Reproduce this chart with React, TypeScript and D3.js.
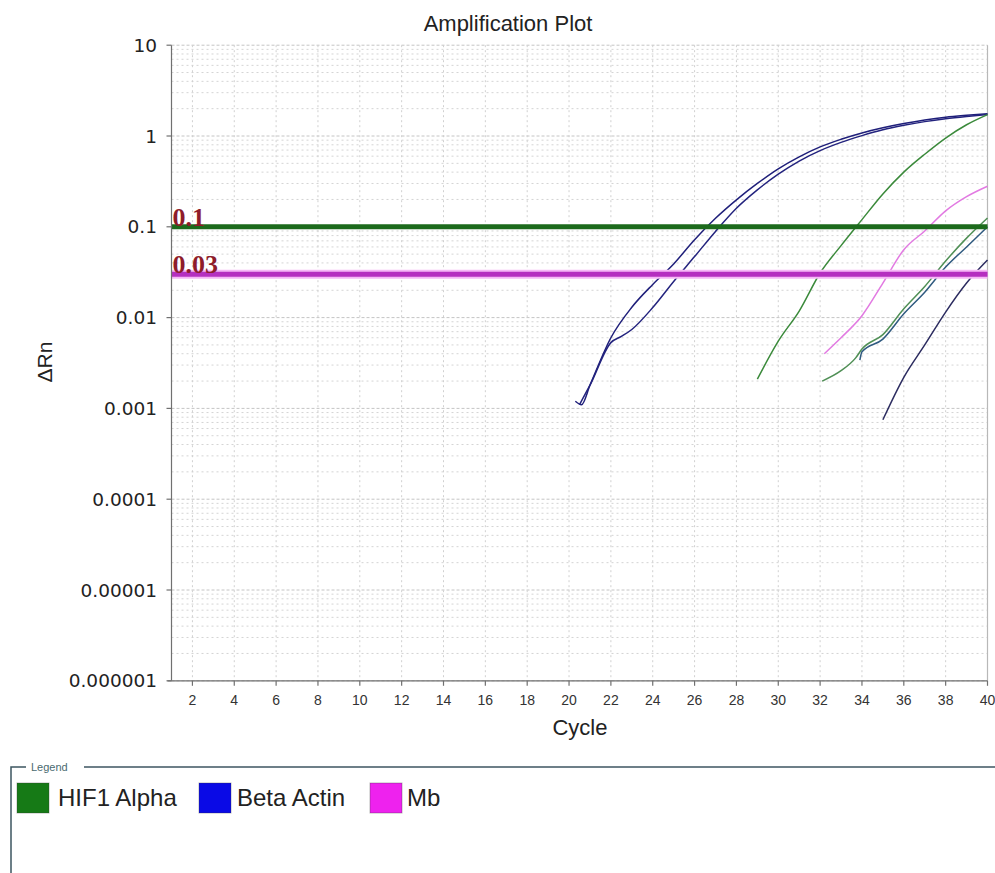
import React from "react";
import * as d3 from "d3";

// ---- data ----
const yTickValues = [10, 1, 0.1, 0.01, 0.001, 0.0001, 0.00001, 0.000001];
const yTickLabels = ["10", "1", "0.1", "0.01", "0.001", "0.0001", "0.00001", "0.000001"];
const xTickValues = [2, 4, 6, 8, 10, 12, 14, 16, 18, 20, 22, 24, 26, 28, 30, 32, 34, 36, 38, 40];

const thresholdValues = [0.1, 0.03];
const thresholdLabels = ["0.1", "0.03"];

const legendLabels = ["HIF1 Alpha", "Beta Actin", "Mb"];

// [cycle, ΔRn]
const betaActinA: [number, number][] = [
  [20.3, 0.0012], [20.6, 0.0011], [21, 0.0018], [22, 0.006], [23, 0.013], [24, 0.0232],
  [25, 0.039], [26, 0.072], [27, 0.124], [28, 0.198], [29, 0.3], [30, 0.435],
  [31, 0.59], [32, 0.76], [33, 0.92], [34, 1.08], [35, 1.23], [36, 1.37],
  [37, 1.5], [38, 1.61], [39, 1.69], [40, 1.76],
];
const betaActinB: [number, number][] = [
  [20.5, 0.0011], [21, 0.0018], [22, 0.0053], [22.5, 0.0062], [23, 0.0074], [24, 0.0129],
  [25, 0.025], [26, 0.047], [27, 0.089], [28, 0.16], [29, 0.255], [30, 0.38],
  [31, 0.53], [32, 0.69], [33, 0.85], [34, 1.01], [35, 1.17], [36, 1.31],
  [37, 1.44], [38, 1.55], [39, 1.64], [40, 1.72],
];
const hif1A: [number, number][] = [
  [29, 0.0021], [30, 0.0055], [31, 0.0118], [32, 0.031], [33, 0.062], [34, 0.12],
  [35, 0.23], [36, 0.4], [37, 0.63], [38, 0.95], [39, 1.33], [40, 1.72],
];
const hif1B: [number, number][] = [
  [32.1, 0.002], [33, 0.0026], [33.7, 0.0036], [34, 0.0045], [35, 0.0065], [36, 0.0125],
  [37, 0.022], [38, 0.042], [39, 0.075], [40, 0.125],
];
const betaActinC: [number, number][] = [
  [33.9, 0.0034], [34, 0.0042], [35, 0.0058], [36, 0.011], [37, 0.019],
  [38, 0.036], [39, 0.06], [40, 0.1],
];
const betaActinD: [number, number][] = [
  [35, 0.00075], [36, 0.0022], [37, 0.005], [38, 0.0115], [39, 0.024], [40, 0.043],
];
const mbA: [number, number][] = [
  [32.2, 0.004], [33, 0.006], [34, 0.0105], [35, 0.024], [36, 0.056], [37, 0.09],
  [38, 0.15], [39, 0.215], [40, 0.28],
];

const curves = [
  { pts: betaActinA, color: "#1f1f7a" },
  { pts: betaActinB, color: "#23237e" },
  { pts: hif1A, color: "#3b8a3b" },
  { pts: hif1B, color: "#4f8f55" },
  { pts: betaActinC, color: "#2f5a80" },
  { pts: betaActinD, color: "#2c2c60" },
  { pts: mbA, color: "#e27ae2" },
];

const legendColors = ["#167a16", "#0a0ae6", "#ee22ee"];
const thresholdColors = ["#1c6a1c", "#b52fc0"];

export default function App() {
  const W = 995;
  const H = 873;
  const x = d3.scaleLinear().domain([1, 40]).range([171.5, 987.5]);
  const y = d3.scaleLog().domain([1e-6, 10]).range([680.8, 45.2]);

  const line = d3
    .line<[number, number]>()
    .x((d) => x(d[0]))
    .y((d) => y(d[1]))
    .curve(d3.curveMonotoneX);

  // minor log grid values
  const minorVals: number[] = [];
  for (let e = -6; e <= 0; e++) {
    for (let m = 2; m <= 9; m++) minorVals.push(m * Math.pow(10, e));
  }

  const font = "'Liberation Sans', Arial, sans-serif";
  const x0 = x(1);
  const x1 = x(40);
  const yTop = y(10);
  const yBot = y(1e-6);

  const legendX = [17, 199, 370];
  const legendTextX = [58, 237, 407];

  return (
    <svg
      width={W}
      height={H}
      style={{ position: "absolute", left: 0, top: 0, background: "#fff" }}
      fontFamily={font}
    >
      <rect x={0} y={0} width={W} height={H} fill="#fff" />
      {/* title */}
      <text x={508} y={31} textAnchor="middle" fontSize={22} fill="#222">
        Amplification Plot
      </text>

      {/* grid */}
      <g>
        {minorVals.map((v, i) => (
          <line key={"m" + i} x1={x0} x2={x1} y1={y(v)} y2={y(v)} stroke="#d4d4d4" strokeWidth={1} strokeDasharray="2,3" />
        ))}
        {yTickValues.map((v, i) => (
          <line key={"M" + i} x1={x0} x2={x1} y1={y(v)} y2={y(v)} stroke="#c4c4c4" strokeWidth={1} strokeDasharray="3,2" />
        ))}
        {xTickValues.map((c, i) => (
          <line key={"v" + i} x1={x(c)} x2={x(c)} y1={yTop} y2={yBot} stroke="#d0d0d0" strokeWidth={1} strokeDasharray="2,3" />
        ))}
      </g>
      {/* right border */}
      <line x1={x1} x2={x1} y1={yTop} y2={yBot} stroke="#b8b8b8" strokeWidth={1.2} />

      {/* curves */}
      {curves.map((c, i) => (
        <path key={"c" + i} d={line(c.pts) || ""} fill="none" stroke={c.color} strokeWidth={1.5} />
      ))}

      {/* thresholds */}
      <line x1={x0} x2={x1} y1={y(thresholdValues[1])} y2={y(thresholdValues[1])} stroke="#f6b8f6" strokeWidth={9} />
      {thresholdValues.map((v, i) => (
        <line key={"t" + i} x1={x0} x2={x1} y1={y(v)} y2={y(v)} stroke={thresholdColors[i]} strokeWidth={5} />
      ))}
      {thresholdValues.map((v, i) => (
        <text
          key={"tl" + i}
          x={x0 + 1}
          y={y(v) - 1}
          fontFamily="'Liberation Serif', 'Times New Roman', serif"
          fontWeight="bold"
          fontSize={26}
          fill="#8e1c2a"
        >
          {thresholdLabels[i]}
        </text>
      ))}

      {/* axes */}
      <line x1={x0} x2={x0} y1={yTop} y2={yBot} stroke="#707070" strokeWidth={1.2} />
      <line x1={x0 - 4} x2={x1} y1={yBot} y2={yBot} stroke="#707070" strokeWidth={1.2} />
      {yTickValues.map((v, i) => (
        <g key={"yt" + i}>
          <line x1={x0 - 5} x2={x0} y1={y(v)} y2={y(v)} stroke="#707070" strokeWidth={1.2} />
          <text
            x={157}
            y={y(v)}
            dy="0.36em"
            textAnchor="end"
            fontSize={18.5}
            fontFamily="'DejaVu Sans', Verdana, sans-serif"
            fill="#222"
          >
            {yTickLabels[i]}
          </text>
        </g>
      ))}
      {xTickValues.map((c, i) => (
        <g key={"xt" + i}>
          <line x1={x(c)} x2={x(c)} y1={yBot} y2={yBot + 5} stroke="#707070" strokeWidth={1.2} />
          <text x={x(c)} y={705} textAnchor="middle" fontSize={14} fill="#333">
            {c}
          </text>
        </g>
      ))}

      {/* axis labels */}
      <text x={580} y={735} textAnchor="middle" fontSize={22} fill="#222">
        Cycle
      </text>
      <text transform="translate(52,362) rotate(-90)" textAnchor="middle" fontSize={21} fill="#222">
        ΔRn
      </text>

      {/* legend box */}
      <path d={`M11,${H} L11,767 L26,767`} fill="none" stroke="#3d5560" strokeWidth={1.5} />
      <line x1={84} x2={W} y1={767} y2={767} stroke="#3d5560" strokeWidth={1.5} />
      <text x={31} y={771} fontSize={11} fill="#4a6a70">
        Legend
      </text>
      {legendLabels.map((lab, i) => (
        <g key={"lg" + i}>
          <rect x={legendX[i]} y={783} width={32} height={30} fill={legendColors[i]} stroke="#333" strokeOpacity={0.35} strokeWidth={1} />
          <text x={legendTextX[i]} y={806} fontSize={24} fill="#222">
            {lab}
          </text>
        </g>
      ))}
    </svg>
  );
}
